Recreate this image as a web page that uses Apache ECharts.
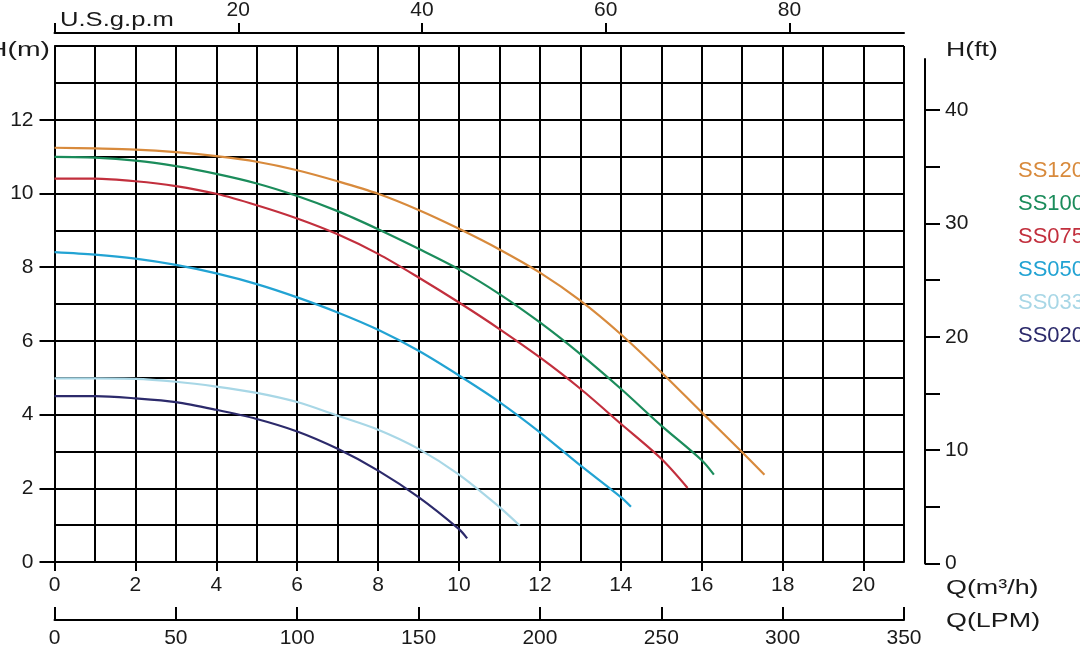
<!DOCTYPE html>
<html>
<head>
<meta charset="utf-8">
<script src="https://cdn.jsdelivr.net/npm/echarts@6/dist/echarts.min.js"></script>
<style>
  html, body { margin: 0; padding: 0; background: #fff; }
  #chart { width: 1080px; height: 649px; }
</style>
</head>
<body>
<div id="chart"></div>
<script>
// pump curves, flow in m3/h, head in m
const models = ["SS120", "SS100", "SS075", "SS050", "SS033", "SS020"];
const colors = ["#D88A3C", "#1B8C5B", "#C22F3D", "#22A3D3", "#A8D7E6", "#2C2A6B"];

const qSS120 = [0, 1, 2, 3, 4, 5, 6, 7, 8, 9, 10, 11, 12, 13, 14, 15, 16, 17, 17.55];
const hSS120 = [11.24, 11.22, 11.19, 11.12, 11.01, 10.86, 10.63, 10.33, 9.99, 9.55, 9.04, 8.48, 7.85, 7.09, 6.18, 5.15, 4.06, 2.98, 2.37];

const qSS100 = [0, 1, 2, 3, 4, 5, 6, 7, 8, 9, 10, 11, 12, 13, 14, 15, 16, 16.3];
const hSS100 = [10.99, 10.97, 10.89, 10.74, 10.53, 10.27, 9.93, 9.52, 9.03, 8.5, 7.94, 7.27, 6.5, 5.64, 4.7, 3.7, 2.76, 2.37];

const qSS075 = [0, 1, 2, 3, 4, 5, 6, 7, 8, 9, 10, 11, 12, 13, 14, 15, 15.65];
const hSS075 = [10.4, 10.4, 10.33, 10.2, 9.99, 9.68, 9.32, 8.89, 8.36, 7.72, 7.04, 6.32, 5.55, 4.7, 3.75, 2.8, 2.01];

const qSS050 = [0, 1, 2, 3, 4, 5, 6, 7, 8, 9, 10, 11, 12, 13, 14, 14.25];
const hSS050 = [8.41, 8.34, 8.23, 8.06, 7.83, 7.54, 7.18, 6.77, 6.3, 5.73, 5.06, 4.34, 3.52, 2.62, 1.76, 1.5];

const qSS033 = [0, 1, 2, 3, 4, 5, 6, 7, 8, 9, 10, 11, 11.5];
const hSS033 = [4.98, 4.98, 4.97, 4.89, 4.76, 4.59, 4.34, 3.97, 3.59, 3.07, 2.37, 1.49, 0.99];

const qSS020 = [0, 1, 2, 3, 4, 5, 6, 7, 8, 9, 10, 10.2];
const hSS020 = [4.5, 4.5, 4.44, 4.34, 4.13, 3.88, 3.54, 3.07, 2.48, 1.76, 0.89, 0.64];

const flows = [qSS120, qSS100, qSS075, qSS050, qSS033, qSS020];
const heads = [hSS120, hSS100, hSS075, hSS050, hSS033, hSS020];

// axis ticks and labels
const qTicks = [0, 2, 4, 6, 8, 10, 12, 14, 16, 18, 20];
const gpmTicks = [0, 20, 40, 60, 80];
const gpmLabels = [20, 40, 60, 80];
const lpmTicks = [0, 50, 100, 150, 200, 250, 300, 350];
const hmTicks = [0, 2, 4, 6, 8, 10, 12];
const hftTicks = [0, 5, 10, 15, 20, 25, 30, 35, 40];
const hftLabels = [0, 10, 20, 30, 40];

const Q_MAX = 21;
const H_MAX = 14;
const GPM_PER_M3H = 4.40287;

const FONT = "Liberation Sans";
const black = "#000";
const lbl = { color: "#1a1a1a", fontSize: 21, fontFamily: FONT };

const chart = echarts.init(document.getElementById("chart"), null, { renderer: "canvas" });

const series = models.map((name, i) => ({
  name,
  type: "line",
  xAxisIndex: 0,
  yAxisIndex: 0,
  smooth: 0.3,
  showSymbol: false,
  data: flows[i].map((q, k) => [q, heads[i][k]]),
  lineStyle: { color: colors[i], width: 2.2 },
  itemStyle: { color: colors[i] },
  z: 5,
}));

const nameText = (text, x, y, align, scaleX, size) => ({
  type: "text",
  x,
  y,
  scaleX,
  style: { text, align, verticalAlign: "middle", fill: "#1a1a1a", fontSize: size || 21, fontFamily: FONT },
});

const option = {
  backgroundColor: "#fff",
  animation: false,
  grid: [
    { left: 54.5, right: 176, top: 46, bottom: 85.5 },
    { left: 800, right: 155, top: 59, bottom: 85.5 },
  ],
  legend: {
    orient: "vertical",
    left: 1008,
    top: 155,
    icon: "none",
    itemWidth: 0,
    itemGap: 11,
    textStyle: { fontSize: 22, fontFamily: FONT },
    data: models.map((name, i) => ({ name, textStyle: { color: colors[i] } })),
  },
  xAxis: [
    {
      // grid lines
      gridIndex: 0,
      type: "value",
      min: 0,
      max: Q_MAX,
      interval: 1,
      axisLine: { show: true, lineStyle: { color: black, width: 2 } },
      axisTick: { show: false },
      axisLabel: { show: false },
      splitLine: { show: true, lineStyle: { color: black, width: 2 } },
    },
    {
      // Q (m3/h)
      gridIndex: 0,
      type: "value",
      position: "bottom",
      min: 0,
      max: Q_MAX,
      interval: 2,
      axisLine: { show: false },
      axisTick: { show: true, length: 9, customValues: qTicks, lineStyle: { color: black, width: 2 } },
      axisLabel: { ...lbl, customValues: qTicks, margin: 13 },
      splitLine: { show: false },
    },
    {
      // U.S.gpm
      gridIndex: 0,
      type: "value",
      position: "top",
      offset: 13,
      min: 0,
      max: Q_MAX * GPM_PER_M3H,
      interval: 20,
      axisLine: { show: true, lineStyle: { color: black, width: 2 } },
      axisTick: { show: true, length: 10, customValues: gpmTicks, lineStyle: { color: black, width: 2 } },
      axisLabel: { ...lbl, customValues: gpmLabels, margin: 12 },
      splitLine: { show: false },
    },
    {
      // Q (LPM)
      gridIndex: 0,
      type: "value",
      position: "bottom",
      offset: 58,
      min: 0,
      max: 350,
      interval: 50,
      axisLine: { show: true, lineStyle: { color: black, width: 2 } },
      axisTick: { show: true, inside: true, length: 13, customValues: lpmTicks, lineStyle: { color: black, width: 2 } },
      axisLabel: { ...lbl, customValues: lpmTicks, margin: 8 },
      splitLine: { show: false },
    },
    {
      gridIndex: 1,
      type: "value",
      min: 0,
      max: 1,
      axisLine: { show: false },
      axisTick: { show: false },
      axisLabel: { show: false },
      splitLine: { show: false },
    },
  ],
  yAxis: [
    {
      gridIndex: 0,
      type: "value",
      min: 0,
      max: H_MAX,
      interval: 1,
      axisLine: { show: true, lineStyle: { color: black, width: 2 } },
      axisTick: { show: false },
      axisLabel: { show: false },
      splitLine: { show: true, lineStyle: { color: black, width: 2 } },
    },
    {
      // H (m)
      gridIndex: 0,
      type: "value",
      position: "left",
      min: 0,
      max: H_MAX,
      interval: 2,
      axisLine: { show: false },
      axisTick: { show: true, length: 15, customValues: hmTicks, lineStyle: { color: black, width: 2 } },
      axisLabel: { ...lbl, customValues: hmTicks, margin: 21 },
      splitLine: { show: false },
    },
    {
      // H (ft)
      gridIndex: 1,
      type: "value",
      position: "right",
      min: 0,
      max: 44.5,
      interval: 5,
      axisLine: { show: true, onZero: false, lineStyle: { color: black, width: 2 } },
      axisTick: { show: true, length: 15, customValues: hftTicks, lineStyle: { color: black, width: 2 } },
      axisLabel: { ...lbl, customValues: hftLabels, margin: 20 },
      splitLine: { show: false },
    },
  ],
  graphic: [
    {
      type: "text",
      x: 60,
      y: 20,
      scaleX: 1.28,
      style: { text: "U.S.g.p.m", align: "left", verticalAlign: "middle", fill: "#1a1a1a", fontSize: 20, fontFamily: FONT },
    },
    nameText("H(m)", 50, 50, "right", 1.35),
    nameText("H(ft)", 946, 50, "left", 1.27),
    nameText("Q(m³/h)", 946, 588, "left", 1.28),
    nameText("Q(LPM)", 946, 621, "left", 1.28),
  ],
  series,
};

chart.setOption(option);
</script>
</body>
</html>
